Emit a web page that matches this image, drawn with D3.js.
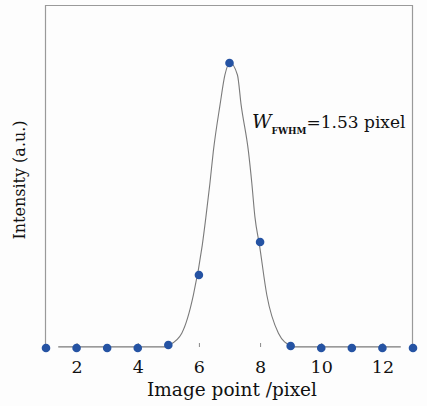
<!DOCTYPE html>
<html><head><meta charset="utf-8">
<script src="https://cdn.jsdelivr.net/npm/d3@7"></script>
<style>
html,body{margin:0;padding:0;background:#fdfdfd;}
svg{display:block;font-family:"DejaVu Serif",serif;}
</style></head>
<body><svg id="c" width="427" height="406"></svg>
<script>
// measured sample points
const pointX = [1,2,3,4,5,6,7,8,9,10,11,12,13];
const pointY = [0,0,0,0,0.0105,0.256,1.0,0.372,0.007,0,0,0,0];
// fitted curve
const curveX = [1.4,4.9,5.02,5.44,5.82,6.11,6.23,6.36,6.47,6.69,6.85,7.01,7.26,7.38,7.62,7.73,7.83,7.98,8.22,8.6,9.0,9.1,12.6];
const curveY = [0.004,0.004,0.01,0.052,0.186,0.361,0.461,0.578,0.689,0.853,0.958,1.002,0.958,0.853,0.689,0.578,0.461,0.361,0.186,0.052,0.008,0.004,0.004];
const xTicks = [2,4,6,8,10,12];
const xTitle = "Image point /pixel";
const yTitle = "Intensity (a.u.)";

const svg = d3.select("#c");
const x = d3.scaleLinear().domain([1,13]).range([46,413]);
const y = d3.scaleLinear().domain([0,1.2]).range([348,6]);
const frame = "#9a9a9a";

// frame: left, top, right
svg.append("path").attr("d", `M${x(1)-0.5},${y(0)-1}V${y(1.2)-0.5}H${x(13)-0.5}V${y(0)-1}`)
  .attr("fill","none").attr("stroke",frame).attr("stroke-width",1.2);

// bottom ticks (inward)
const xa = d3.axisBottom(x).tickValues(xTicks).tickSize(-4).tickPadding(14).tickFormat(d3.format("d"));
const g = svg.append("g").attr("transform",`translate(0,${y(0)-1})`).call(xa);
g.attr("font-size",null).attr("font-family",null);
g.select(".domain").remove();
g.selectAll(".tick line").attr("stroke","#888");
g.selectAll(".tick text").attr("font-size","17.5px").attr("fill","#111").attr("dy","0.71em");

// curve
const line = d3.line().x((d,i)=>x(curveX[i])).y((d,i)=>y(curveY[i])).curve(d3.curveMonotoneX);
svg.append("path").datum(curveX).attr("d",line).attr("fill","none").attr("stroke","#7a7a7a").attr("stroke-width",1.1);

// points
svg.append("g").selectAll("circle").data(pointX).join("circle")
  .attr("cx",(d)=>x(d)).attr("cy",(d,i)=>y(pointY[i])).attr("r",4.3).attr("fill","#2553a3");

// titles
svg.append("text").attr("x",232).attr("y",396).attr("text-anchor","middle")
  .attr("font-size","18.5px").attr("fill","#111").text(xTitle);
svg.append("text").attr("transform","translate(25,180) rotate(-90)").attr("text-anchor","middle")
  .attr("font-size","16px").attr("fill","#111").text(yTitle);

// annotation
const t = svg.append("text").attr("x",252).attr("y",128).attr("font-size","17px").attr("fill","#111");
t.append("tspan").attr("font-style","italic").attr("font-size","19px").text("W");
t.append("tspan").attr("font-size","9px").attr("dy",6).attr("font-weight","bold").text("FWHM");
t.append("tspan").attr("dy",-6).text("=1.53 pixel");
</script></body></html>
